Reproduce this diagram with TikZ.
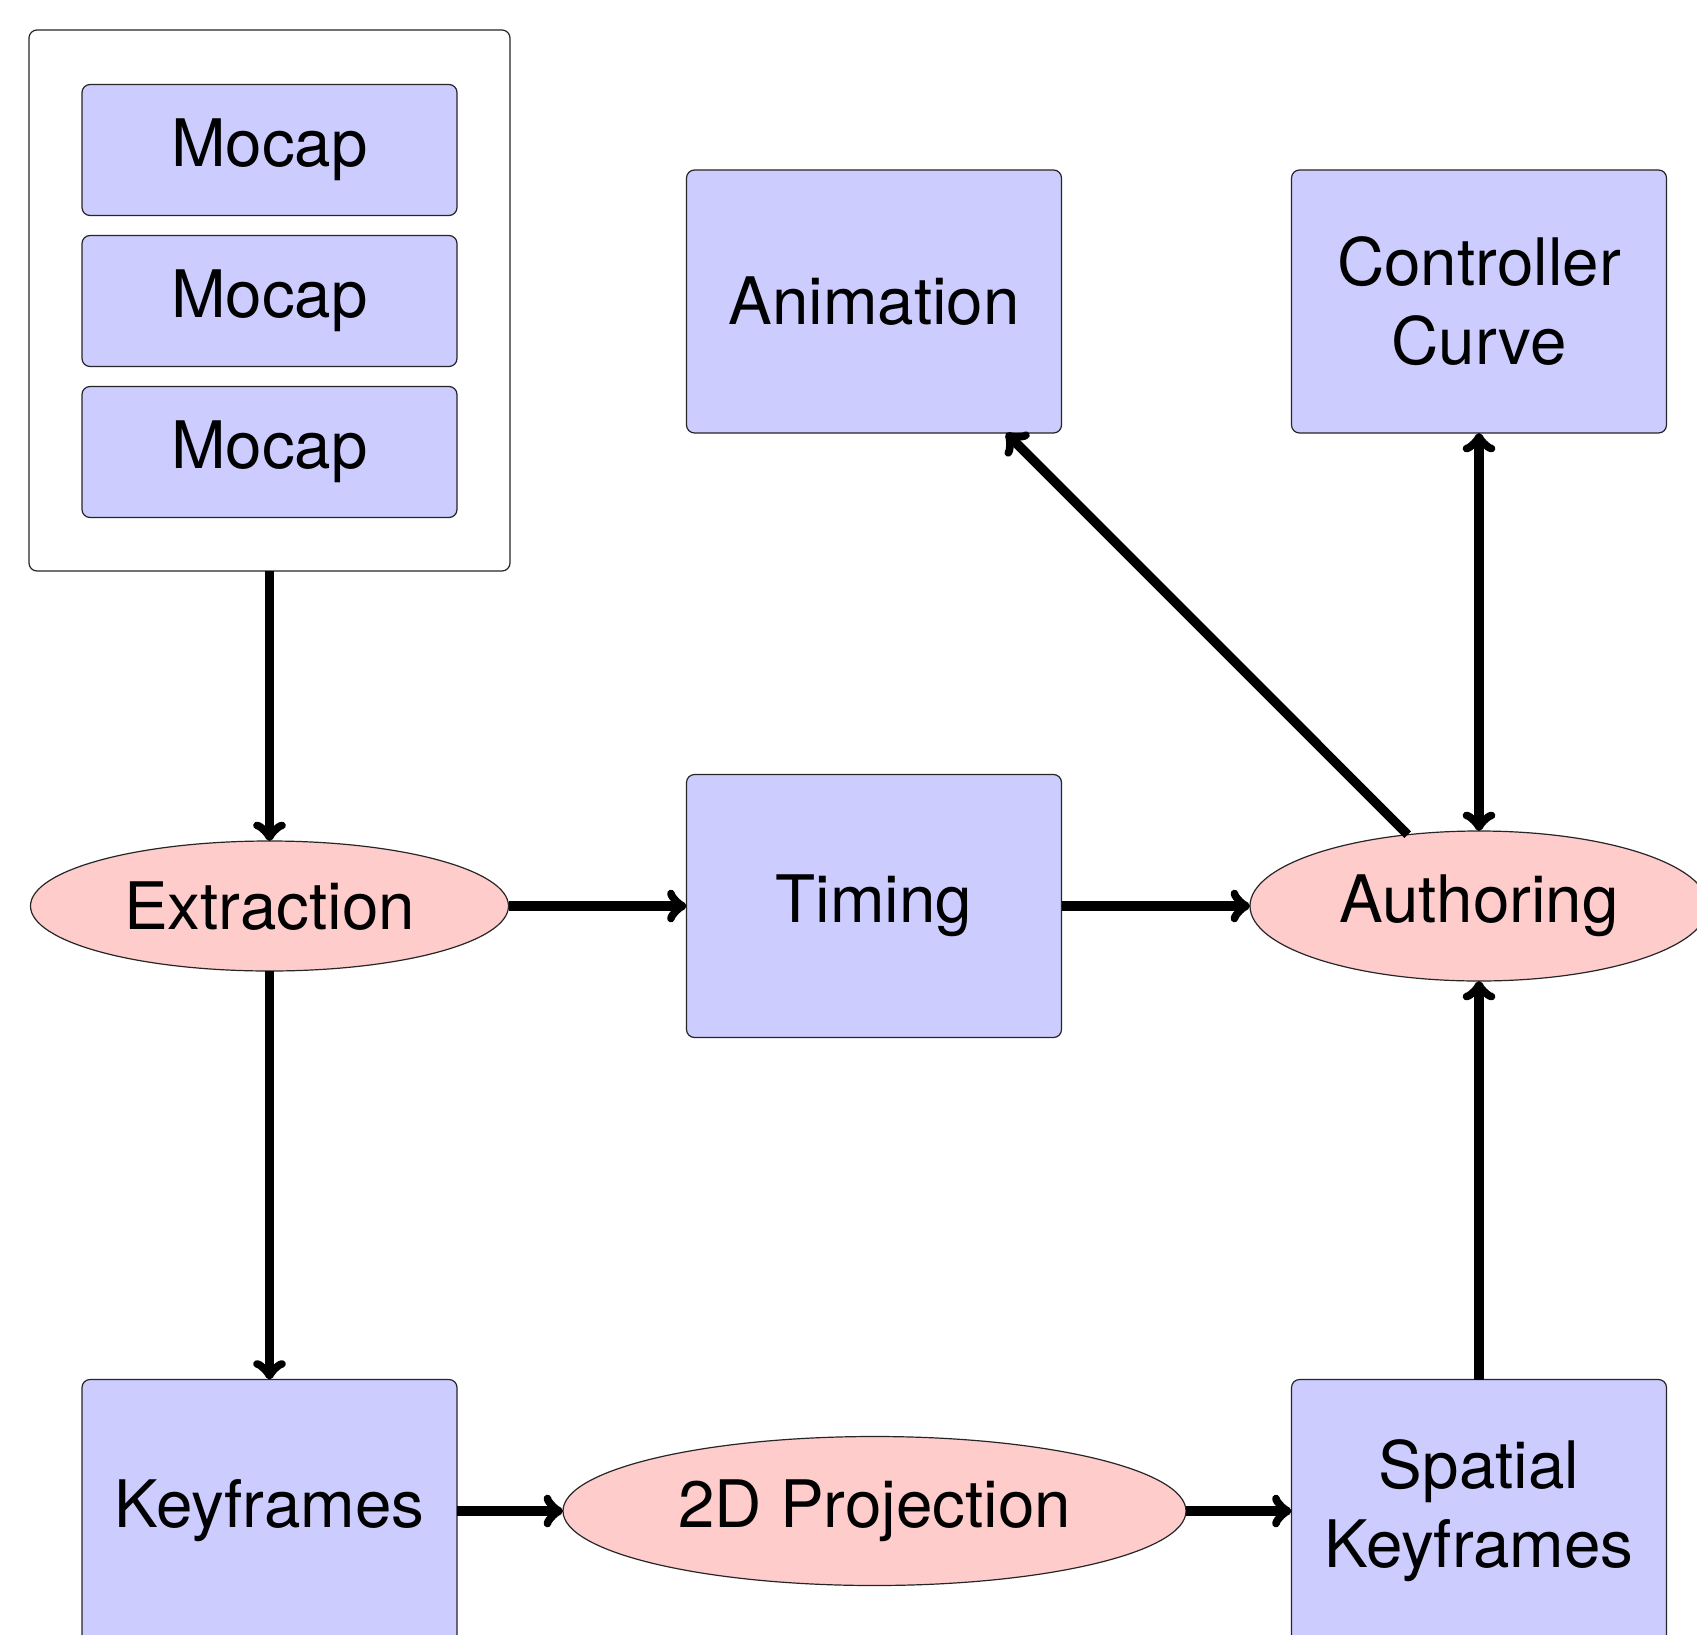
\documentclass[tikz,border=0pt]{standalone}
\usepackage{fontspec}
\setmainfont{TeX Gyre Heros}
\usetikzlibrary{shapes.geometric}
\definecolor{boxblue}{RGB}{204,204,255}
\definecolor{ovalpink}{RGB}{255,204,204}
\begin{document}
\begin{tikzpicture}[x=1pt,y=-1pt,
  every node/.style={font=\fontsize{65.5}{79}\selectfont, inner sep=0pt, outer sep=0pt},
  blockbox/.style={draw=black!85, line width=1.2pt, fill=boxblue, rounded corners=8pt,
    minimum width=375pt, minimum height=263pt, align=center},
  mocapbox/.style={blockbox, minimum height=131pt},
  groupbox/.style={draw=black!85, line width=1.2pt, fill=white, rounded corners=8pt,
    minimum width=481pt, minimum height=541pt},
  procoval/.style={ellipse, draw=black!85, line width=1.2pt, fill=ovalpink},
  flow/.style={->, line width=9.5pt},
]
\useasboundingbox (0,0) rectangle (1697,1635);
\clip (0,0) rectangle (1697,1635);
\fill[white] (0,0) rectangle (1697,1635);

% source group with the three capture clips
\node[groupbox] (group) at (269.5,300.5) {};
\node[mocapbox] (mocap1) at (269.5,150) {Mocap};
\node[mocapbox] (mocap2) at (269.5,301) {Mocap};
\node[mocapbox] (mocap3) at (269.5,452) {Mocap};

% top row
\node[blockbox] (anim) at (874,301.5) {Animation};
\node[blockbox] (ctrl) at (1479,301.5) {Controller\\Curve};

% middle row
\node[procoval, minimum width=478pt, minimum height=130pt] (extr) at (269.5,906) {Extraction};
\node[blockbox] (timing) at (874,906) {Timing};
\node[procoval, minimum width=458pt, minimum height=150pt] (auth) at (1479,906) {Authoring};

% bottom row
\node[blockbox] (keyf) at (269.5,1511) {Keyframes};
\node[procoval, minimum width=623pt, minimum height=149pt] (proj) at (874.5,1511) {2D Projection};
\node[blockbox] (spatial) at (1479,1511) {Spatial\\Keyframes};

% connectors
\draw[flow] (group.south) -- (extr.north);
\draw[flow] (extr.south) -- (keyf.north);
\draw[flow] (extr.east) -- (timing.west);
\draw[flow] (timing.east) -- (auth.west);
\draw[flow] (keyf.east) -- (proj.west);
\draw[flow] (proj.east) -- (spatial.west);
\draw[flow] (spatial.north) -- (auth.south);
\draw[flow, <->] (auth.north) -- (ctrl.south);
\coordinate (animhit) at (intersection of auth.center--auth.135 and anim.south west--anim.south east);
\draw[flow] (auth.135) -- (animhit);
\end{tikzpicture}
\end{document}
